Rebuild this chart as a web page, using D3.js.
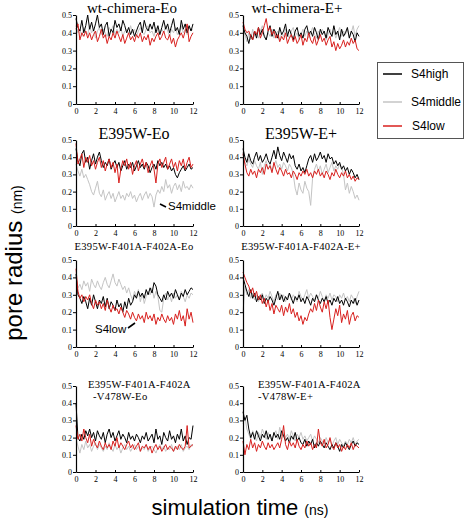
<!DOCTYPE html>
<html><head><meta charset="utf-8">
<script src="https://cdn.jsdelivr.net/npm/d3@7"></script>
<style>body{margin:0;background:#fff}svg{display:block}</style>
</head><body>
<script>
// ---- data (pore radius in nm, sampled every 0.2 ns from 0 to 12 ns) ----
const seriesNames = ["S4high", "S4middle", "S4low"];
const xTicks = [0, 2, 4, 6, 8, 10, 12];
const yTicks = [0, 0.1, 0.2, 0.3, 0.4, 0.5];
const yTickLabels = ["0", "0.1", "0.2", "0.3", "0.4", "0.5"];
const panelTitles = [
  ["wt-chimera-Eo"], ["wt-chimera-E+"],
  ["E395W-Eo"], ["E395W-E+"],
  ["E395W-F401A-F402A-Eo"], ["E395W-F401A-F402A-E+"],
  ["E395W-F401A-F402A", "-V478W-Eo"], ["E395W-F401A-F402A", "-V478W-E+"]
];

const p1High = [0.48,0.43,0.41,0.47,0.40,0.44,0.50,0.42,0.46,0.41,0.45,0.50,0.43,0.45,0.39,0.44,0.46,0.38,0.42,0.40,0.47,0.43,0.45,0.41,0.47,0.44,0.40,0.43,0.39,0.42,0.38,0.41,0.44,0.46,0.40,0.47,0.43,0.41,0.45,0.42,0.46,0.40,0.44,0.39,0.43,0.47,0.42,0.45,0.40,0.44,0.48,0.41,0.43,0.39,0.47,0.42,0.45,0.40,0.44,0.41,0.45];
const p1Mid  = [0.44,0.40,0.42,0.38,0.43,0.41,0.39,0.44,0.40,0.42,0.37,0.41,0.43,0.39,0.42,0.40,0.38,0.43,0.41,0.44,0.39,0.42,0.40,0.43,0.38,0.41,0.42,0.39,0.44,0.40,0.42,0.38,0.41,0.43,0.40,0.39,0.42,0.44,0.40,0.41,0.38,0.43,0.41,0.39,0.42,0.40,0.44,0.41,0.38,0.42,0.40,0.43,0.39,0.41,0.44,0.40,0.42,0.39,0.43,0.41,0.42];
const p1Low  = [0.42,0.45,0.36,0.40,0.38,0.41,0.37,0.40,0.36,0.39,0.41,0.35,0.38,0.42,0.37,0.39,0.34,0.38,0.36,0.40,0.37,0.41,0.38,0.35,0.39,0.34,0.37,0.40,0.36,0.38,0.35,0.39,0.37,0.40,0.35,0.38,0.36,0.39,0.33,0.37,0.35,0.38,0.40,0.36,0.38,0.41,0.37,0.36,0.39,0.34,0.37,0.32,0.36,0.38,0.40,0.37,0.41,0.45,0.35,0.38,0.40];

const p2High = [0.44,0.40,0.38,0.34,0.39,0.36,0.41,0.37,0.43,0.39,0.42,0.38,0.36,0.41,0.44,0.38,0.42,0.40,0.37,0.43,0.39,0.41,0.45,0.38,0.42,0.39,0.36,0.41,0.43,0.38,0.40,0.37,0.42,0.44,0.39,0.41,0.38,0.43,0.40,0.36,0.42,0.39,0.41,0.37,0.43,0.40,0.38,0.44,0.39,0.41,0.36,0.42,0.38,0.40,0.43,0.37,0.41,0.39,0.35,0.40,0.38];
const p2Mid  = [0.43,0.39,0.35,0.40,0.36,0.42,0.38,0.40,0.37,0.41,0.44,0.39,0.36,0.40,0.38,0.42,0.37,0.39,0.41,0.36,0.40,0.38,0.42,0.39,0.37,0.41,0.43,0.38,0.40,0.36,0.39,0.42,0.38,0.41,0.37,0.40,0.43,0.39,0.37,0.41,0.38,0.42,0.40,0.36,0.39,0.42,0.38,0.41,0.37,0.40,0.43,0.38,0.41,0.39,0.42,0.37,0.40,0.44,0.38,0.42,0.44];
const p2Low  = [0.46,0.42,0.40,0.41,0.38,0.36,0.41,0.39,0.43,0.37,0.40,0.44,0.48,0.41,0.43,0.39,0.41,0.37,0.39,0.35,0.38,0.36,0.40,0.34,0.37,0.39,0.35,0.38,0.34,0.36,0.39,0.33,0.37,0.35,0.40,0.36,0.34,0.38,0.33,0.36,0.39,0.35,0.37,0.33,0.36,0.38,0.32,0.35,0.30,0.34,0.31,0.33,0.36,0.32,0.35,0.33,0.37,0.34,0.36,0.31,0.30];

const p3High = [0.45,0.38,0.35,0.42,0.44,0.37,0.40,0.33,0.38,0.42,0.36,0.40,0.43,0.38,0.34,0.37,0.35,0.39,0.33,0.36,0.38,0.34,0.37,0.32,0.35,0.38,0.33,0.36,0.34,0.37,0.32,0.35,0.38,0.34,0.36,0.33,0.37,0.35,0.31,0.34,0.36,0.33,0.38,0.35,0.37,0.34,0.36,0.33,0.35,0.32,0.34,0.30,0.28,0.31,0.33,0.35,0.32,0.34,0.36,0.33,0.34];
const p3Mid  = [0.36,0.32,0.29,0.33,0.28,0.30,0.27,0.24,0.20,0.18,0.22,0.26,0.19,0.17,0.21,0.15,0.18,0.20,0.16,0.19,0.14,0.17,0.20,0.16,0.18,0.15,0.19,0.17,0.20,0.16,0.18,0.14,0.17,0.19,0.15,0.18,0.20,0.16,0.19,0.17,0.11,0.18,0.21,0.19,0.23,0.20,0.27,0.22,0.24,0.19,0.23,0.25,0.21,0.24,0.20,0.26,0.22,0.23,0.21,0.24,0.22];
const p3Low  = [0.48,0.36,0.39,0.42,0.34,0.40,0.37,0.41,0.35,0.38,0.33,0.37,0.40,0.34,0.38,0.32,0.36,0.39,0.34,0.37,0.31,0.36,0.25,0.33,0.38,0.35,0.39,0.33,0.37,0.30,0.35,0.38,0.32,0.36,0.39,0.34,0.37,0.31,0.35,0.38,0.33,0.25,0.36,0.39,0.34,0.37,0.40,0.33,0.36,0.39,0.34,0.37,0.32,0.38,0.35,0.39,0.33,0.37,0.40,0.34,0.36];

const p4High = [0.45,0.40,0.37,0.42,0.38,0.36,0.40,0.43,0.38,0.41,0.37,0.39,0.42,0.38,0.36,0.40,0.44,0.39,0.46,0.41,0.38,0.43,0.40,0.37,0.42,0.39,0.41,0.35,0.33,0.36,0.32,0.34,0.31,0.35,0.39,0.41,0.37,0.42,0.38,0.40,0.43,0.39,0.41,0.37,0.42,0.39,0.40,0.36,0.38,0.35,0.37,0.33,0.35,0.32,0.34,0.30,0.33,0.31,0.28,0.30,0.27];
const p4Mid  = [0.43,0.37,0.35,0.39,0.36,0.34,0.38,0.35,0.33,0.37,0.30,0.35,0.38,0.33,0.36,0.32,0.35,0.38,0.34,0.36,0.33,0.37,0.35,0.32,0.36,0.34,0.30,0.22,0.18,0.25,0.21,0.19,0.26,0.22,0.20,0.12,0.28,0.33,0.36,0.32,0.35,0.30,0.33,0.36,0.31,0.34,0.37,0.32,0.35,0.33,0.36,0.34,0.30,0.21,0.25,0.19,0.23,0.20,0.16,0.18,0.15];
const p4Low  = [0.42,0.36,0.31,0.29,0.33,0.30,0.32,0.28,0.33,0.31,0.34,0.30,0.36,0.33,0.35,0.31,0.37,0.33,0.30,0.34,0.32,0.29,0.33,0.30,0.31,0.28,0.32,0.30,0.27,0.31,0.29,0.32,0.30,0.33,0.29,0.31,0.28,0.32,0.30,0.33,0.29,0.31,0.28,0.32,0.30,0.27,0.31,0.29,0.33,0.30,0.28,0.31,0.29,0.32,0.28,0.30,0.27,0.29,0.26,0.28,0.27];

const p5High = [0.42,0.30,0.28,0.25,0.29,0.26,0.22,0.28,0.24,0.30,0.26,0.22,0.27,0.25,0.29,0.23,0.28,0.22,0.26,0.24,0.21,0.27,0.23,0.25,0.20,0.26,0.22,0.28,0.24,0.26,0.30,0.28,0.32,0.29,0.31,0.28,0.33,0.30,0.34,0.31,0.37,0.35,0.30,0.28,0.26,0.30,0.27,0.32,0.29,0.31,0.28,0.33,0.30,0.27,0.31,0.29,0.33,0.30,0.32,0.34,0.33];
const p5Mid  = [0.40,0.34,0.36,0.33,0.38,0.35,0.37,0.32,0.39,0.36,0.34,0.38,0.35,0.33,0.37,0.40,0.36,0.34,0.38,0.42,0.37,0.35,0.39,0.36,0.33,0.35,0.31,0.34,0.30,0.27,0.32,0.29,0.33,0.26,0.31,0.25,0.29,0.32,0.30,0.34,0.28,0.32,0.29,0.21,0.20,0.28,0.31,0.27,0.30,0.26,0.31,0.28,0.30,0.27,0.32,0.29,0.26,0.30,0.28,0.31,0.30];
const p5Low  = [0.45,0.32,0.28,0.30,0.26,0.29,0.27,0.30,0.25,0.22,0.27,0.24,0.26,0.22,0.25,0.21,0.27,0.23,0.20,0.24,0.21,0.22,0.19,0.23,0.20,0.17,0.21,0.19,0.16,0.20,0.17,0.15,0.19,0.16,0.18,0.14,0.20,0.16,0.18,0.15,0.19,0.13,0.17,0.15,0.19,0.16,0.14,0.18,0.15,0.17,0.13,0.19,0.16,0.21,0.15,0.18,0.12,0.22,0.16,0.20,0.14];

const p6High = [0.40,0.36,0.32,0.29,0.33,0.28,0.31,0.26,0.29,0.27,0.30,0.25,0.28,0.26,0.29,0.27,0.24,0.28,0.32,0.27,0.30,0.26,0.29,0.27,0.31,0.28,0.25,0.29,0.27,0.30,0.26,0.28,0.25,0.29,0.27,0.24,0.28,0.26,0.30,0.27,0.25,0.28,0.26,0.29,0.25,0.27,0.24,0.28,0.26,0.29,0.25,0.27,0.24,0.28,0.26,0.23,0.27,0.25,0.28,0.24,0.27];
const p6Mid  = [0.20,0.35,0.30,0.33,0.28,0.31,0.27,0.30,0.26,0.29,0.31,0.27,0.30,0.28,0.32,0.29,0.26,0.30,0.27,0.31,0.28,0.30,0.26,0.29,0.31,0.27,0.30,0.28,0.26,0.32,0.29,0.27,0.30,0.33,0.28,0.31,0.29,0.27,0.30,0.28,0.32,0.29,0.26,0.30,0.28,0.31,0.27,0.30,0.29,0.26,0.30,0.28,0.31,0.27,0.29,0.26,0.30,0.28,0.25,0.29,0.32];
const p6Low  = [0.43,0.40,0.37,0.35,0.31,0.34,0.29,0.32,0.27,0.30,0.25,0.28,0.23,0.27,0.21,0.25,0.19,0.24,0.22,0.20,0.24,0.18,0.23,0.20,0.25,0.19,0.22,0.17,0.20,0.15,0.18,0.13,0.17,0.15,0.19,0.22,0.20,0.25,0.21,0.27,0.23,0.20,0.26,0.22,0.27,0.17,0.10,0.16,0.22,0.18,0.24,0.14,0.19,0.16,0.21,0.13,0.18,0.20,0.15,0.18,0.17];

const p7High = [0.40,0.20,0.18,0.22,0.19,0.24,0.21,0.25,0.20,0.23,0.18,0.24,0.21,0.19,0.23,0.17,0.22,0.25,0.20,0.23,0.18,0.21,0.24,0.19,0.22,0.20,0.17,0.23,0.19,0.21,0.18,0.22,0.20,0.17,0.21,0.19,0.23,0.18,0.20,0.22,0.17,0.25,0.19,0.21,0.16,0.23,0.20,0.18,0.24,0.19,0.21,0.17,0.22,0.19,0.25,0.18,0.21,0.16,0.20,0.19,0.27];
const p7Mid  = [0.20,0.15,0.11,0.16,0.13,0.18,0.14,0.16,0.12,0.15,0.17,0.13,0.16,0.14,0.12,0.15,0.13,0.17,0.14,0.12,0.16,0.13,0.15,0.11,0.14,0.16,0.13,0.15,0.12,0.14,0.16,0.13,0.15,0.12,0.14,0.13,0.16,0.12,0.14,0.15,0.13,0.11,0.14,0.16,0.13,0.15,0.12,0.14,0.13,0.16,0.12,0.14,0.15,0.13,0.16,0.12,0.14,0.15,0.13,0.16,0.15];
const p7Low  = [0.27,0.19,0.22,0.18,0.25,0.20,0.17,0.22,0.15,0.19,0.16,0.14,0.18,0.15,0.13,0.17,0.14,0.16,0.13,0.18,0.15,0.20,0.14,0.17,0.15,0.13,0.16,0.18,0.14,0.16,0.13,0.15,0.17,0.12,0.15,0.14,0.16,0.13,0.15,0.11,0.14,0.16,0.13,0.15,0.12,0.14,0.16,0.13,0.15,0.14,0.12,0.15,0.13,0.16,0.14,0.13,0.15,0.27,0.14,0.15,0.16];

const p8High = [0.35,0.30,0.33,0.25,0.20,0.23,0.19,0.24,0.21,0.18,0.22,0.20,0.24,0.19,0.22,0.18,0.23,0.20,0.22,0.19,0.24,0.21,0.18,0.20,0.17,0.21,0.19,0.23,0.18,0.20,0.17,0.16,0.19,0.15,0.18,0.16,0.19,0.14,0.17,0.15,0.18,0.16,0.14,0.17,0.15,0.13,0.16,0.14,0.17,0.15,0.12,0.16,0.14,0.17,0.15,0.13,0.16,0.18,0.15,0.17,0.16];
const p8Mid  = [0.28,0.32,0.25,0.22,0.19,0.24,0.21,0.18,0.23,0.20,0.25,0.22,0.19,0.23,0.20,0.18,0.22,0.24,0.19,0.26,0.21,0.23,0.20,0.22,0.19,0.24,0.21,0.18,0.22,0.20,0.23,0.19,0.21,0.18,0.20,0.22,0.18,0.21,0.19,0.17,0.20,0.18,0.16,0.20,0.17,0.19,0.15,0.18,0.20,0.16,0.19,0.17,0.15,0.18,0.16,0.19,0.17,0.20,0.16,0.18,0.19];
const p8Low  = [0.18,0.10,0.16,0.13,0.19,0.14,0.17,0.12,0.16,0.14,0.18,0.15,0.13,0.17,0.14,0.16,0.13,0.15,0.17,0.14,0.19,0.27,0.16,0.13,0.18,0.15,0.17,0.14,0.19,0.15,0.13,0.16,0.14,0.18,0.15,0.17,0.13,0.16,0.14,0.25,0.17,0.15,0.19,0.14,0.16,0.20,0.15,0.13,0.17,0.14,0.16,0.12,0.15,0.13,0.16,0.14,0.17,0.13,0.16,0.15,0.14];

const panelData = [
  [p1High, p1Mid, p1Low], [p2High, p2Mid, p2Low],
  [p3High, p3Mid, p3Low], [p4High, p4Mid, p4Low],
  [p5High, p5Mid, p5Low], [p6High, p6Mid, p6Low],
  [p7High, p7Mid, p7Low], [p8High, p8Mid, p8Low]
];

// ---- drawing ----
const W = 466, H = 520;
const colors = {S4high: "#000000", S4middle: "#c4c4c4", S4low: "#d8201e"};
const serif = "'Liberation Serif','Times New Roman',serif";
const sans = "'Liberation Sans',Arial,sans-serif";

const svg = d3.select("body").append("svg").attr("width", W).attr("height", H);

const colX = [[76, 193], [243, 359]];
const rowY = [[15, 104], [140, 226], [260, 347], [386, 472]];
const titleSpec = [
  {x: 132, y: [13], size: 15, anchor: "middle"},
  {x: 297, y: [13], size: 15, anchor: "middle"},
  {x: 134, y: [139], size: 16, anchor: "middle"},
  {x: 301, y: [139], size: 16, anchor: "middle"},
  {x: 134, y: [250], size: 10.6, anchor: "middle"},
  {x: 301, y: [250], size: 10.6, anchor: "middle"},
  {x: 88, y: [388, 400], dx: [0, 5], size: 10.6, anchor: "start"},
  {x: 258, y: [388, 400], dx: [0, 0], size: 10.6, anchor: "start"}
];

panelData.forEach((series, i) => {
  const c = i % 2, r = Math.floor(i / 2);
  const x = d3.scaleLinear().domain([0, 12]).range(colX[c]);
  const y = d3.scaleLinear().domain([0, 0.5]).range([rowY[r][1], rowY[r][0]]);
  const g = svg.append("g");

  // series: gray, black, red order
  [1, 0, 2].forEach(k => {
    const vals = series[k];
    const n = vals.length;
    const line = d3.line().x((d, j) => x(j * 12 / (n - 1))).y(d => y(d));
    g.append("path").datum(vals).attr("d", line)
      .attr("fill", "none").attr("stroke", colors[seriesNames[k]])
      .attr("stroke-width", 1).attr("stroke-linejoin", "round");
  });

  const yAxis = d3.axisLeft(y).tickValues(yTicks).tickSize(3).tickSizeOuter(0)
    .tickFormat((d, j) => yTickLabels[j]);
  const xAxis = d3.axisBottom(x).tickValues(xTicks).tickSize(-2).tickSizeOuter(0);
  const ga = g.append("g").attr("transform", `translate(${colX[c][0]},0)`).call(yAxis);
  const gx = g.append("g").attr("transform", `translate(0,${rowY[r][1]})`).call(xAxis);
  [ga, gx].forEach(a => {
    a.select(".domain").attr("stroke", "#000").attr("stroke-width", 1.2);
    a.selectAll(".tick line").attr("stroke", "#000");
    a.selectAll("text").attr("font-family", serif).attr("font-size", 8).attr("fill", "#000");
  });
  ga.selectAll("text").attr("x", -4);
  gx.selectAll("text").attr("y", 4.5);

  const ts = titleSpec[i];
  panelTitles[i].forEach((t, j) => {
    svg.append("text").attr("x", ts.x + (ts.dx ? ts.dx[j] : 0)).attr("y", ts.y[j])
      .attr("text-anchor", ts.anchor).attr("font-family", serif)
      .attr("font-size", ts.size).attr("letter-spacing", ts.size < 12 ? 0.3 : 0)
      .text(t);
  });
});

// annotations
svg.append("line").attr("x1", 160).attr("y1", 204).attr("x2", 166).attr("y2", 207)
  .attr("stroke", "#000").attr("stroke-width", 1.6);
svg.append("text").attr("x", 168).attr("y", 210).attr("font-family", sans)
  .attr("font-size", 11.5).text("S4middle");
svg.append("line").attr("x1", 128).attr("y1", 328).attr("x2", 135).attr("y2", 323)
  .attr("stroke", "#000").attr("stroke-width", 1.6);
svg.append("text").attr("x", 95).attr("y", 333).attr("font-family", sans)
  .attr("font-size", 11.5).text("S4low");

// legend
const lg = svg.append("g");
lg.append("rect").attr("x", 377.5).attr("y", 62.5).attr("width", 86).attr("height", 76)
  .attr("fill", "#fff").attr("stroke", "#555").attr("stroke-width", 1);
const legY = [74, 102, 126];
seriesNames.forEach((s, k) => {
  lg.append("line").attr("x1", 383).attr("x2", 402).attr("y1", legY[k]).attr("y2", legY[k])
    .attr("stroke", colors[s]).attr("stroke-width", 1.5);
  lg.append("text").attr("x", k === 2 ? 412 : 411).attr("y", legY[k] + 4)
    .attr("font-family", sans).attr("font-size", 12).text(s);
});

// axis titles
const yt = svg.append("text").attr("transform", "translate(22,263) rotate(-90)")
  .attr("text-anchor", "middle").attr("font-family", sans);
yt.append("tspan").attr("font-size", 24).text("pore radius ");
yt.append("tspan").attr("font-size", 14).text("(nm)");
const xt = svg.append("text").attr("x", 240).attr("y", 515)
  .attr("text-anchor", "middle").attr("font-family", sans);
xt.append("tspan").attr("font-size", 22).text("simulation time ");
xt.append("tspan").attr("font-size", 14).text("(ns)");
</script>
</body></html>
